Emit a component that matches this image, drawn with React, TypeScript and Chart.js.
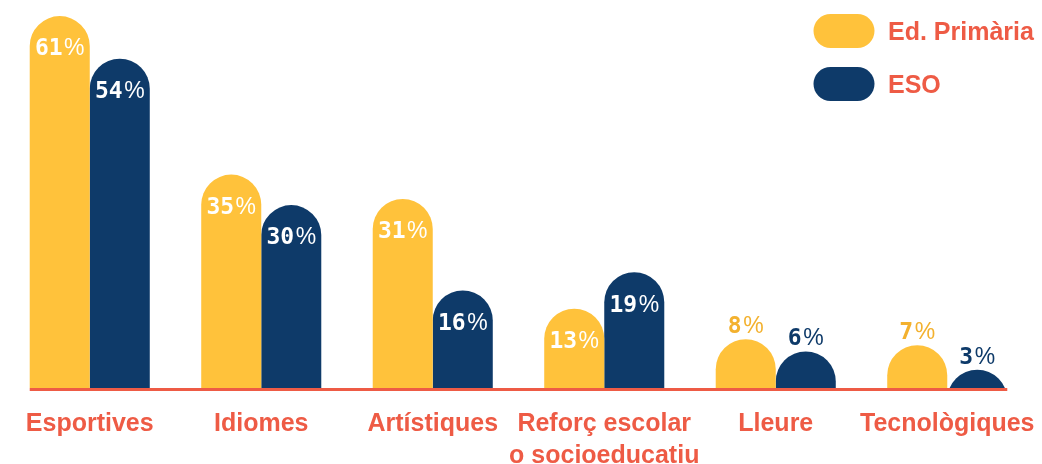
import React, { useEffect, useRef } from 'react';
import { Chart, registerables } from 'chart.js';

Chart.register(...registerables);

const categories: (string | string[])[] = [
  'Esportives',
  'Idiomes',
  'Artístiques',
  ['Reforç escolar', 'o socioeducatiu'],
  'Lleure',
  'Tecnològiques',
];
const seriesNames = ['Ed. Primària', 'ESO'];
const primaria = [61, 35, 31, 13, 8, 7];
const eso = [54, 30, 16, 19, 6, 3];

const CORAL = '#EE5B45';
const YELLOW = '#FFC23B';
const NAVY = '#0E3A69';
const barColors = [YELLOW, NAVY];
const outsideTextColors = ['#F3B12E', NAVY];

function drawPct(ctx: CanvasRenderingContext2D, num: string, cx: number, cy: number, color: string) {
  const numFont = 'bold 23px "DejaVu Sans Mono"';
  const pctFont = '23px "Liberation Sans"';
  ctx.font = numFont;
  const w1 = ctx.measureText(num).width;
  ctx.font = pctFont;
  const w2 = ctx.measureText('%').width;
  const gap = 1.5;
  const total = w1 + gap + w2;
  const x0 = cx - total / 2;
  const baseline = cy + 8.4;
  ctx.fillStyle = color;
  ctx.textAlign = 'left';
  ctx.textBaseline = 'alphabetic';
  ctx.font = numFont;
  ctx.fillText(num, x0, baseline);
  ctx.font = pctFont;
  ctx.fillText('%', x0 + w1 + gap, baseline);
}

const decorPlugin = {
  id: 'decor',
  afterDatasetsDraw(chart: any) {
    const ctx: CanvasRenderingContext2D = chart.ctx;
    const yScale = chart.scales.y;
    const y0 = yScale.getPixelForValue(0);
    const nDs = chart.data.datasets.length;
    const m0 = chart.getDatasetMeta(0);
    const mL = chart.getDatasetMeta(nDs - 1);
    const first = m0.data[0];
    const last = mL.data[mL.data.length - 1];
    const left = first.x - first.width / 2;
    const right = last.x + last.width / 2;
    ctx.save();
    ctx.fillStyle = CORAL;
    ctx.fillRect(left, y0, right - left, 3);

    chart.data.datasets.forEach((ds: any, di: number) => {
      const meta = chart.getDatasetMeta(di);
      meta.data.forEach((el: any, i: number) => {
        const v = ds.data[i] as number;
        const top = yScale.getPixelForValue(v);
        const inside = v >= 10;
        const cy = inside ? top + 31 : top - 14.5;
        drawPct(ctx, String(v), el.x, cy, inside ? '#FFFFFF' : outsideTextColors[di]);
      });
    });

    // legend
    const lx = 813.5;
    const ly = [14, 67];
    const pw = 61;
    const ph = 34;
    chart.data.datasets.forEach((ds: any, di: number) => {
      ctx.fillStyle = barColors[di];
      ctx.beginPath();
      (ctx as any).roundRect(lx, ly[di], pw, ph, ph / 2);
      ctx.fill();
      ctx.fillStyle = CORAL;
      ctx.font = 'bold 25px "Liberation Sans"';
      ctx.textAlign = 'left';
      ctx.textBaseline = 'alphabetic';
      ctx.fillText(ds.label, 888, ly[di] + ph / 2 + 9);
    });
    ctx.restore();
  },
};

export default function App() {
  const ref = useRef<HTMLCanvasElement | null>(null);
  useEffect(() => {
    if (!ref.current) return;
    const chart = new Chart(ref.current, {
      type: 'bar',
      data: {
        labels: categories as any,
        datasets: [
          {
            label: seriesNames[0],
            data: primaria,
            backgroundColor: YELLOW,
            borderRadius: 30,
            borderSkipped: 'start',
            base: -10,
            clip: 0,
            categoryPercentage: 0.7,
            barPercentage: 1,
          } as any,
          {
            label: seriesNames[1],
            data: eso,
            backgroundColor: NAVY,
            borderRadius: 30,
            borderSkipped: 'start',
            base: -10,
            clip: 0,
            categoryPercentage: 0.7,
            barPercentage: 1,
          } as any,
        ],
      },
      options: {
        responsive: false,
        animation: false,
        devicePixelRatio: 1,
        layout: { padding: { left: 4, right: 9, top: 10, bottom: 0 } },
        plugins: { legend: { display: false }, tooltip: { enabled: false } },
        scales: {
          x: {
            grid: { display: false, drawTicks: false },
            border: { display: false },
            ticks: {
              color: CORAL,
              padding: 20,
              maxRotation: 0,
              autoSkip: false,
              font: { family: '"Liberation Sans"', size: 25, weight: 'bold', lineHeight: 1.28 },
            },
            afterFit(scale: any) {
              scale.height = 76;
              scale.paddingLeft = 0;
              scale.paddingRight = 0;
            },
          },
          y: {
            display: false,
            min: 0,
            max: 62,
          },
        },
      },
      plugins: [decorPlugin],
    });
    return () => chart.destroy();
  }, []);
  return (
    <div style={{ position: 'absolute', left: 0, top: 0, width: 1042, height: 464, background: '#fff' }}>
      <canvas ref={ref} width={1042} height={464} style={{ display: 'block' }} />
    </div>
  );
}
